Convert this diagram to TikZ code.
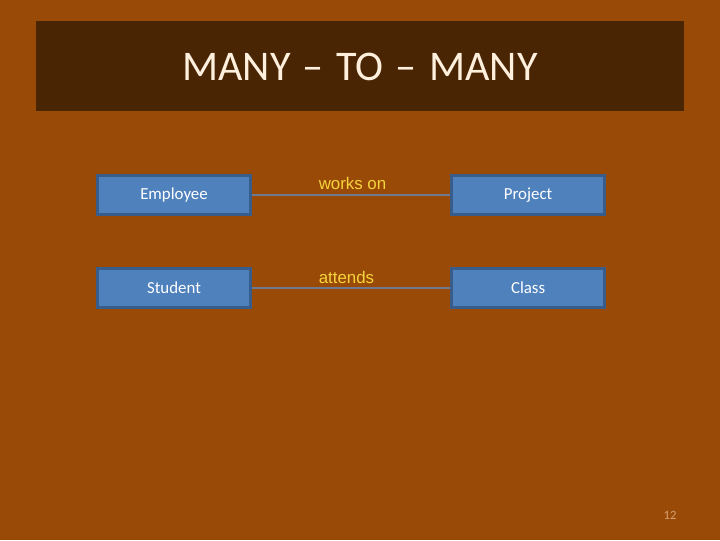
\documentclass[tikz,border=0pt]{standalone}
\usepackage{fontspec}
\setmainfont{Carlito}
\newfontfamily\labelfont{Liberation Sans}
\usepackage{tikz}
\usetikzlibrary{positioning}
\definecolor{slidecolor}{RGB}{153, 74, 7}
\definecolor{titlecolor}{RGB}{74, 37, 4}
\definecolor{titletext}{RGB}{255, 240, 222}
\definecolor{entitycolor}{RGB}{79, 129, 189}
\definecolor{entityborder}{RGB}{56, 93, 138}
\definecolor{linkcolor}{RGB}{110, 122, 145}
\definecolor{relcolor}{RGB}{245, 212, 60}
\definecolor{pagecolor}{RGB}{215, 160, 110}

\begin{document}
\begin{tikzpicture}[
    x=0.025cm, y=-0.025cm,
    node distance=1.27cm and 4.95cm,
    entity/.style={draw=entityborder, line width=2pt, fill=entitycolor, minimum width=3.83cm, minimum height=0.98cm, text=white, font=\fontsize{12}{14}\selectfont},
    link/.style={draw=linkcolor, line width=1pt},
    rel/.style={font=\labelfont\fontsize{12}{14}\selectfont, text=relcolor, inner sep=0pt}
]
    % Slide background and title
    \fill[slidecolor] (0,0) rectangle (720,540);
    \fill[titlecolor] (36,21) rectangle (684,111);
    \node[text=titletext, font=\fontsize{30}{36}\selectfont] (title) at (360,67)
        {MANY\hspace{2pt} –\hspace{2pt} TO\hspace{2pt} –\hspace{2pt} MANY};

    % Entities
    \node[entity] (employee) at (174,195) {Employee};
    \node[entity, right=of employee] (project) {Project};
    \node[entity, below=of employee] (student) {Student};
    \node[entity, right=of student] (class) {Class};

    % Relationships
    \draw[link] (employee) -- (project) node[rel, pos=0, anchor=base west, xshift=1.65cm, yshift=0.15cm] {works on};
    \draw[link] (student) -- (class) node[rel, pos=0, anchor=base west, xshift=1.65cm, yshift=0.1cm] {attends};

    % Page number
    \node[text=pagecolor, font=\fontsize{9}{11}\selectfont] (page) at (670,515) {12};
\end{tikzpicture}
\end{document}
